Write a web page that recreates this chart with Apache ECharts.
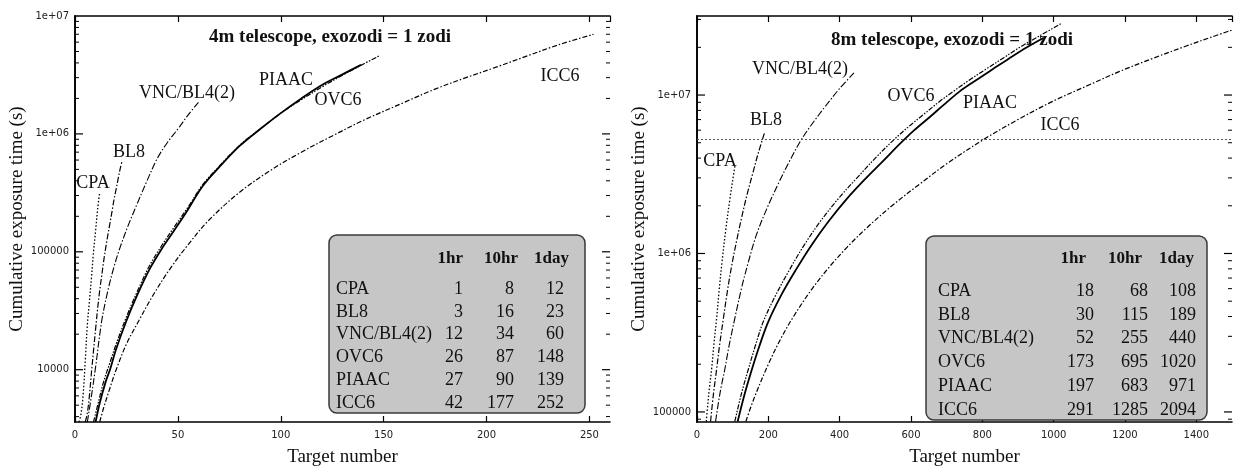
<!DOCTYPE html>
<html>
<head>
<meta charset="utf-8">
<script src="https://cdn.jsdelivr.net/npm/echarts@6/dist/echarts.min.js"></script>
<style>
  html, body { margin: 0; padding: 0; background: #fff; }
  #chart { width: 1238px; height: 468px; }
</style>
</head>
<body>
<div id="chart"></div>
<script>
// curve names, in table order
const NAMES = ["CPA", "BL8", "VNC/BL4(2)", "OVC6", "PIAAC", "ICC6"];

// 4m telescope: [target number, cumulative exposure time (s)]
const CPA_4M = [[2, 3600], [3, 4300], [4, 6300], [5, 12000], [6, 24000], [7, 38000], [8, 60000], [9, 100000], [10, 150000], [11, 230000], [12, 320000]];
const BL8_4M = [[5, 3600], [6, 4300], [7, 6000], [8, 9500], [9, 14500], [10, 22000], [11, 33000], [12, 47000], [13, 63000], [14, 85000], [15, 110000], [16, 140000], [17, 175000], [18, 220000], [19, 280000], [20, 340000], [21, 420000], [22, 510000], [23, 600000]];
const VNC_4M = [[6, 3600], [8, 6000], [10, 10500], [13, 26000], [16, 47000], [19, 75000], [22, 110000], [26, 170000], [30, 250000], [35, 400000], [40, 620000], [45, 850000], [50, 1100000], [55, 1450000], [60, 1850000]];
const OVC_4M = [[9, 3600], [11, 5000], [14, 8000], [17, 11500], [20, 16500], [25, 28000], [30, 45000], [36, 75000], [42, 112000], [48, 160000], [55, 240000], [62, 370000], [70, 530000], [80, 800000], [90, 1100000], [100, 1500000], [110, 1950000], [120, 2500000], [130, 3150000], [140, 3900000], [148, 4600000]];
const PIAAC_4M = [[10, 3600], [12, 5200], [15, 8000], [17, 10000], [20, 15000], [25, 26000], [30, 42000], [36, 70000], [42, 105000], [48, 150000], [55, 230000], [62, 360000], [70, 520000], [80, 790000], [90, 1100000], [100, 1500000], [110, 2000000], [120, 2600000], [130, 3200000], [139, 3850000]];
const ICC6_4M = [[12, 3600], [14, 4800], [17, 7000], [20, 10000], [25, 16500], [31, 26000], [38, 43000], [46, 71000], [55, 115000], [65, 185000], [80, 320000], [95, 490000], [110, 700000], [125, 960000], [140, 1300000], [160, 1850000], [175, 2400000], [190, 3000000], [205, 3700000], [220, 4600000], [235, 5700000], [252, 7000000]];

// 8m telescope
const CPA_8M = [[26, 87100], [30, 110000], [35, 143000], [41, 186000], [48, 276000], [55, 389000], [62, 582000], [70, 877000], [81, 1430000], [92, 2190000], [104, 3310000], [107, 3630000]];
const BL8_8M = [[38, 87100], [46, 129000], [55, 186000], [64, 271000], [74, 389000], [85, 575000], [98, 855000], [113, 1260000], [125, 1680000], [140, 2340000], [158, 3310000], [172, 4320000], [189, 5750000]];
const VNC_8M = [[52, 87100], [60, 114000], [68, 145000], [78, 186000], [90, 262000], [106, 389000], [125, 607000], [145, 900000], [167, 1320000], [198, 1970000], [230, 2820000], [260, 3850000], [293, 5250000], [325, 6680000], [360, 8500000], [400, 11000000], [440, 13800000]];
const OVC_8M = [[106, 87100], [125, 131500], [144, 186000], [165, 268000], [186, 372000], [220, 542000], [260, 794000], [300, 1125000], [345, 1585000], [400, 2270000], [450, 3020000], [500, 4000000], [555, 5300000], [600, 6500000], [634, 7500000], [680, 9100000], [717, 10470000], [765, 12500000], [811, 14600000], [860, 17200000], [905, 20000000], [960, 23600000], [1020, 28200000]];
const PIAAC_8M = [[114, 87100], [134, 130600], [154, 186000], [175, 261000], [200, 372000], [238, 556000], [278, 794000], [320, 1120000], [368, 1585000], [420, 2210000], [474, 2990000], [520, 3800000], [570, 4950000], [610, 6030000], [652, 7240000], [690, 8600000], [735, 10470000], [780, 12300000], [830, 14600000], [875, 17000000], [925, 20000000], [971, 22900000]];
const ICC6_8M = [[137, 87100], [160, 122000], [200, 200000], [235, 290000], [270, 398000], [320, 587000], [370, 817000], [420, 1090000], [475, 1445000], [550, 2030000], [625, 2750000], [700, 3680000], [811, 5370000], [900, 7000000], [997, 9120000], [1100, 11600000], [1185, 14100000], [1280, 17100000], [1372, 20400000], [1440, 23100000], [1500, 25700000]];

// table values: number of targets
const T4_1HR = [1, 3, 12, 26, 27, 42];
const T4_10HR = [8, 16, 34, 87, 90, 177];
const T4_1DAY = [12, 23, 60, 148, 139, 252];
const T8_1HR = [18, 30, 52, 173, 197, 291];
const T8_10HR = [68, 115, 255, 695, 683, 1285];
const T8_1DAY = [108, 189, 440, 1020, 971, 2094];

const LIMIT_8M = 5256000; // dotted horizontal line

const X4_MAX = 260;
const X8_MAX = 1500;
const Y4 = [3600, 1e7];
const Y8 = [86400, 31536000];

const SERIF = "'Liberation Serif', 'DejaVu Serif', serif";
const SANS = "'DejaVu Sans', sans-serif";

const STYLES = [
  { type: [1.5, 2], width: 1.3 },
  { type: [6, 2, 1.5, 2], width: 1.2 },
  { type: [7, 2, 1.5, 2], width: 1.1 },
  { type: [5, 1.5, 1.5, 1.5, 1.5, 1.5], width: 1.2 },
  { type: "solid", width: 1.8 },
  { type: [5, 2, 1.5, 2], width: 1.2 },
];

function logLabel(v) {
  const l = Math.log10(v);
  const e = Math.round(l);
  if (Math.abs(l - e) > 1e-4) return "";
  if (e >= 6) return "1e+" + String(e).padStart(2, "0");
  return String(Math.pow(10, e));
}

// y tick marks drawn inside the frame: [value, length]
function yTickValues(range) {
  const vals = [];
  for (let e = 3; e <= 8; e++) {
    for (let m = 1; m <= 9; m++) {
      const v = m * Math.pow(10, e);
      if (v > range[0] * 1.001 && v < range[1] * 0.999) vals.push([v, m === 1 ? 8 : 4]);
    }
  }
  return vals;
}

function xAxes(grid, max) {
  const base = {
    type: "value",
    gridIndex: grid,
    min: 0,
    max: max,
    interval: max > 1000 ? 200 : 50,
    splitLine: { show: false },
    axisLine: { lineStyle: { color: "#000", width: 1.6 } },
    axisTick: { inside: true, length: 6, lineStyle: { color: "#000", width: 1.2 } },
  };
  return [
    Object.assign({}, base, {
      position: "bottom",
      name: "Target number",
      nameLocation: "middle",
      nameGap: 26,
      nameTextStyle: { fontFamily: SERIF, fontSize: 19, color: "#111" },
      axisLabel: {
        fontFamily: SANS, fontSize: 10, color: "#222", margin: 8,
        showMaxLabel: false, formatter: (v) => String(v),
      },
    }),
    Object.assign({}, base, { position: "top", axisLabel: { show: false } }),
  ];
}

function yAxes(grid, range) {
  const base = {
    type: "log",
    logBase: 10,
    gridIndex: grid,
    min: range[0],
    max: range[1],
    splitLine: { show: false },
    axisLine: { lineStyle: { color: "#000", width: 1.6 } },
    axisTick: { show: false },
  };
  return [
    Object.assign({}, base, {
      position: "left",
      name: "Cumulative exposure time (s)",
      nameLocation: "middle",
      nameGap: 46,
      nameTextStyle: { fontFamily: SERIF, fontSize: 19, color: "#111" },
      axisLabel: { fontFamily: SANS, fontSize: 10, color: "#222", margin: 6, formatter: logLabel },
    }),
    Object.assign({}, base, { position: "right", axisLabel: { show: false } }),
  ];
}

function curveSeries(datasets, xi, yi) {
  return datasets.map((data, i) => ({
    type: "line",
    name: NAMES[i],
    xAxisIndex: xi,
    yAxisIndex: yi,
    data: data,
    showSymbol: false,
    smooth: 0.35,
    clip: true,
    silent: true,
    lineStyle: { color: "#000", type: STYLES[i].type, width: STYLES[i].width },
    z: 3,
  }));
}

function yTickSeries(xi, yi, range) {
  return {
    type: "custom",
    xAxisIndex: xi,
    yAxisIndex: yi,
    silent: true,
    clip: false,
    data: yTickValues(range).map((t) => [0, t[0], t[1]]),
    renderItem: (params, api) => {
      const p = api.coord([api.value(0), api.value(1)]);
      const len = api.value(2);
      const cs = params.coordSys;
      const style = { stroke: "#000", lineWidth: len > 5 ? 1.2 : 1 };
      return {
        type: "group",
        children: [
          { type: "line", shape: { x1: cs.x, y1: p[1], x2: cs.x + len, y2: p[1] }, style },
          { type: "line", shape: { x1: cs.x + cs.width - len, y1: p[1], x2: cs.x + cs.width, y2: p[1] }, style },
        ],
      };
    },
  };
}

function textEl(x, y, text, opts) {
  return {
    type: "text",
    x: x,
    y: y,
    silent: true,
    style: Object.assign(
      { text: text, fontFamily: SERIF, fontSize: 18, fill: "#111", align: "center", verticalAlign: "middle" },
      opts || {}
    ),
    z: 10,
  };
}

function tableEl(box, cols, headerY, rowY, rowStep, nameX, c1, c2, c3, head) {
  const children = [
    {
      type: "rect",
      shape: { x: box[0], y: box[1], width: box[2] - box[0], height: box[3] - box[1], r: 8 },
      style: { fill: "#c6c6c6", stroke: "#3a3a3a", lineWidth: 1.5 },
      z: 8,
    },
  ];
  ["1hr", "10hr", "1day"].forEach((h, k) => {
    children.push(textEl(head[k], headerY, h, { align: "right", fontWeight: "bold", fontSize: 17 }));
  });
  NAMES.forEach((name, i) => {
    const y = rowY + i * rowStep;
    children.push(textEl(nameX, y, name, { align: "left" }));
    children.push(textEl(cols[0], y, String(c1[i]), { align: "right" }));
    children.push(textEl(cols[1], y, String(c2[i]), { align: "right" }));
    children.push(textEl(cols[2], y, String(c3[i]), { align: "right" }));
  });
  return children;
}

const chart = echarts.init(document.getElementById("chart"));

const series = [
  ...curveSeries([CPA_4M, BL8_4M, VNC_4M, OVC_4M, PIAAC_4M, ICC6_4M], 0, 0),
  ...curveSeries([CPA_8M, BL8_8M, VNC_8M, OVC_8M, PIAAC_8M, ICC6_8M], 2, 2),
  yTickSeries(0, 0, Y4),
  yTickSeries(2, 2, Y8),
];

series[6].markLine = {
  silent: true,
  symbol: "none",
  label: { show: false },
  lineStyle: { color: "#555", type: [2, 2], width: 1 },
  data: [{ yAxis: LIMIT_8M }],
};

const graphic = [
  textEl(330, 37, "4m telescope, exozodi = 1 zodi", { fontWeight: "bold", fontSize: 19 }),
  textEl(952, 40, "8m telescope, exozodi = 1 zodi", { fontWeight: "bold", fontSize: 19 }),
  // curve labels, 4m
  textEl(93, 183, "CPA"),
  textEl(129, 152, "BL8"),
  textEl(187, 93, "VNC/BL4(2)"),
  textEl(286, 80, "PIAAC"),
  textEl(338, 100, "OVC6"),
  textEl(560, 76, "ICC6"),
  // curve labels, 8m
  textEl(720, 161, "CPA"),
  textEl(766, 120, "BL8"),
  textEl(800, 69, "VNC/BL4(2)"),
  textEl(911, 96, "OVC6"),
  textEl(990, 103, "PIAAC"),
  textEl(1060, 125, "ICC6"),
  ...tableEl([329, 235, 585, 413], [463, 514, 564], 259, 289, 22.8, 336, T4_1HR, T4_10HR, T4_1DAY, [463, 518, 569]),
  ...tableEl([926, 236, 1207, 420], [1094, 1148, 1196], 259, 291, 23.8, 938, T8_1HR, T8_10HR, T8_1DAY, [1086, 1142, 1194]),
];

chart.setOption({
  animation: false,
  backgroundColor: "#fff",
  grid: [
    { left: 75, right: 628, top: 16, bottom: 46, outerBoundsMode: "none" },
    { left: 697, right: 6, top: 16, bottom: 46, outerBoundsMode: "none" },
  ],
  xAxis: [...xAxes(0, X4_MAX), ...xAxes(1, X8_MAX)],
  yAxis: [...yAxes(0, Y4), ...yAxes(1, Y8)],
  series: series,
  graphic: graphic,
});
</script>
</body>
</html>
